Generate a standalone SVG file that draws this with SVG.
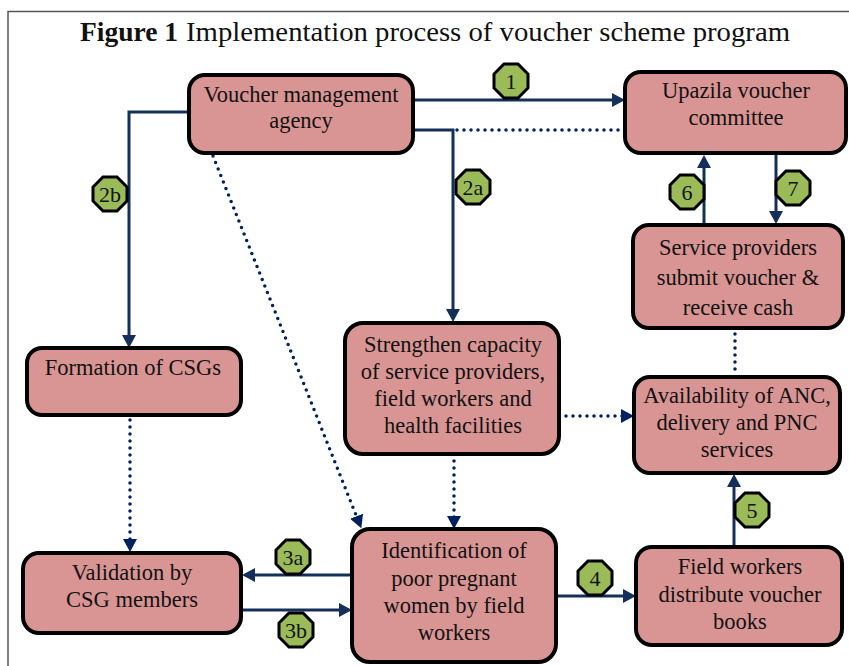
<svg xmlns="http://www.w3.org/2000/svg" width="849" height="666" viewBox="0 0 849 666">
<style>
.box{fill:#D99594;stroke:#000;stroke-width:4}
.t{font-family:"Liberation Serif","Times New Roman",serif;font-size:22.5px;fill:#111;text-anchor:middle}
.bt{font-family:"Liberation Serif","Times New Roman",serif;font-size:22px;fill:#111;text-anchor:middle}
.solid{fill:none;stroke:#14305A;stroke-width:3}
.dot{fill:none;stroke:#002060;stroke-width:3.5;stroke-linecap:round;stroke-dasharray:0 7}
.oct{fill:#9BBB59;stroke:#000;stroke-width:3}
</style>
<defs>
<marker id="ah" markerUnits="userSpaceOnUse" markerWidth="14" markerHeight="14" refX="4" refY="7" orient="auto">
<path d="M0,0 L13,7 L0,14 z" fill="#14305A"/>
</marker>
<marker id="ahd" markerUnits="userSpaceOnUse" markerWidth="14" markerHeight="14" refX="4" refY="7" orient="auto">
<path d="M0,0 L13,7 L0,14 z" fill="#002060"/>
</marker>
<polygon id="oct" points="-7,-17 7,-17 17,-7 17,7 7,17 -7,17 -17,7 -17,-7"/>
</defs>
<rect x="0" y="0" width="849" height="666" fill="#fff"/>
<path d="M8,666 L8,11.5 L849,11.5" fill="none" stroke="#555" stroke-width="1.5"/>
<g id="title">
<text x="80" y="41" font-family="Liberation Serif,'Times New Roman',serif" font-size="28" font-weight="bold" fill="#111" textLength="98" lengthAdjust="spacingAndGlyphs">Figure 1</text>
<text x="186" y="41" font-family="Liberation Serif,'Times New Roman',serif" font-size="28" fill="#111" textLength="604" lengthAdjust="spacingAndGlyphs">Implementation process of voucher scheme program</text>
</g>
<g id="connectors">
<path class="solid" d="M413,100 L616,100" marker-end="url(#ah)"/>
<path class="solid" d="M413,130 L453,130 L453,313" marker-end="url(#ah)"/>
<path class="dot" d="M457,130 L625,130"/>
<path class="solid" d="M189,112 L129,112 L129,339" marker-end="url(#ah)"/>
<path class="dot" d="M213,156 L358,520" marker-end="url(#ahd)"/>
<path class="dot" d="M130,420 L130,543" marker-end="url(#ahd)"/>
<path class="dot" d="M454,461 L454,520" marker-end="url(#ahd)"/>
<path class="dot" d="M566,416 L625,416" marker-end="url(#ahd)"/>
<path class="dot" d="M735,334 L735,376"/>
<path class="solid" d="M352,575 L251,575" marker-end="url(#ah)"/>
<path class="solid" d="M241,610 L343,610" marker-end="url(#ah)"/>
<path class="solid" d="M556,596 L627,596" marker-end="url(#ah)"/>
<path class="solid" d="M734,547 L734,483" marker-end="url(#ah)"/>
<path class="solid" d="M704,225 L704,164" marker-end="url(#ah)"/>
<path class="solid" d="M776,154 L776,215" marker-end="url(#ah)"/>
</g>
<g id="vma">
<rect class="box" x="189" y="75" width="224" height="78" rx="16"/>
<text class="t" x="301" y="102">Voucher management</text>
<text class="t" x="301" y="128">agency</text>
</g>
<g id="upazila">
<rect class="box" x="625" y="72" width="221" height="81" rx="16"/>
<text class="t" x="736" y="98">Upazila voucher</text>
<text class="t" x="736" y="125">committee</text>
</g>
<g id="service-providers">
<rect class="box" x="633" y="225" width="210" height="103" rx="16"/>
<text class="t" x="738" y="255">Service providers</text>
<text class="t" x="738" y="285">submit voucher &amp;</text>
<text class="t" x="738" y="315">receive cash</text>
</g>
<g id="formation">
<rect class="box" x="27" y="348" width="214" height="67" rx="15"/>
<text class="t" x="133" y="375">Formation of CSGs</text>
</g>
<g id="strengthen">
<rect class="box" x="345" y="323" width="214" height="131" rx="18"/>
<text class="t" x="453" y="352">Strengthen capacity</text>
<text class="t" x="453" y="379">of service providers,</text>
<text class="t" x="453" y="406">field workers and</text>
<text class="t" x="453" y="433">health facilities</text>
</g>
<g id="availability">
<rect class="box" x="634" y="377" width="206" height="96" rx="16"/>
<text class="t" x="737" y="403">Availability of ANC,</text>
<text class="t" x="737" y="430">delivery and PNC</text>
<text class="t" x="737" y="457">services</text>
</g>
<g id="validation">
<rect class="box" x="23" y="553" width="218" height="80" rx="16"/>
<text class="t" x="132" y="580">Validation by</text>
<text class="t" x="132" y="607">CSG members</text>
</g>
<g id="identification">
<rect class="box" x="352" y="529" width="204" height="133" rx="18"/>
<text class="t" x="454" y="558">Identification of</text>
<text class="t" x="454" y="586">poor pregnant</text>
<text class="t" x="454" y="613">women by field</text>
<text class="t" x="454" y="640">workers</text>
</g>
<g id="field-workers">
<rect class="box" x="636" y="547" width="206" height="98" rx="16"/>
<text class="t" x="740" y="574">Field workers</text>
<text class="t" x="740" y="602">distribute voucher</text>
<text class="t" x="740" y="629">books</text>
</g>
<g id="badge-1"><use href="#oct" class="oct" x="511" y="81"/><text class="bt" x="511" y="89">1</text></g>
<g id="badge-2a"><use href="#oct" class="oct" x="473" y="187"/><text class="bt" x="473" y="195">2a</text></g>
<g id="badge-2b"><use href="#oct" class="oct" x="110" y="194"/><text class="bt" x="110" y="202">2b</text></g>
<g id="badge-3a"><use href="#oct" class="oct" x="293" y="557"/><text class="bt" x="293" y="565">3a</text></g>
<g id="badge-3b"><use href="#oct" class="oct" x="296" y="630"/><text class="bt" x="296" y="638">3b</text></g>
<g id="badge-4"><use href="#oct" class="oct" x="595" y="578"/><text class="bt" x="595" y="586">4</text></g>
<g id="badge-5"><use href="#oct" class="oct" x="752" y="510"/><text class="bt" x="752" y="518">5</text></g>
<g id="badge-6"><use href="#oct" class="oct" x="687" y="192"/><text class="bt" x="687" y="200">6</text></g>
<g id="badge-7"><use href="#oct" class="oct" x="793" y="188"/><text class="bt" x="793" y="196">7</text></g>
</svg>
